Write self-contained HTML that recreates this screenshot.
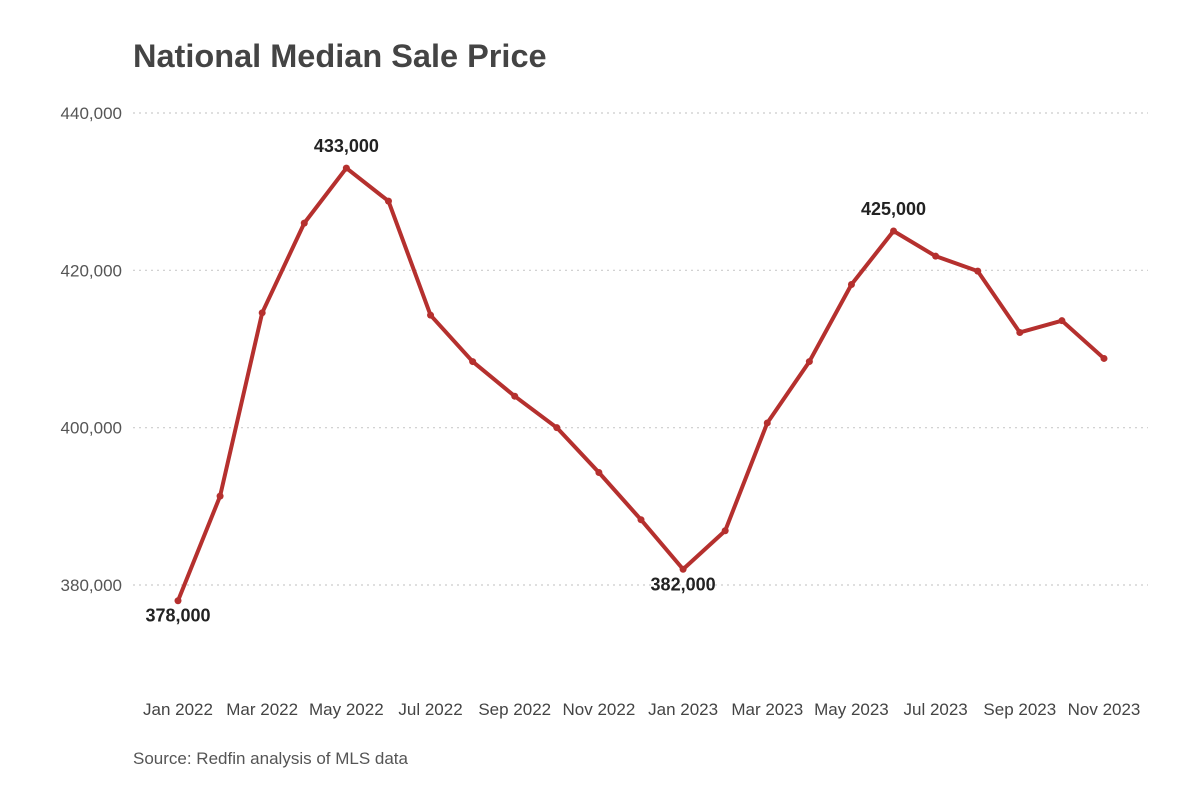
<!DOCTYPE html>
<html><head><meta charset="utf-8"><style>
body{margin:0;background:#fff;}
svg{display:block;font-family:"Liberation Sans",Arial,sans-serif;}
</style></head><body>
<svg width="1200" height="799" viewBox="0 0 1200 799">
<text x="133" y="67" font-size="32.5" font-weight="bold" fill="#444">National Median Sale Price</text>
<g id="grid"></g><g id="xaxis"></g><g id="series"></g><g id="labels"></g>
<text x="133" y="764" font-size="17" fill="#555">Source: Redfin analysis of MLS data</text>
</svg>
<script>
const categories=["Jan 2022","Feb 2022","Mar 2022","Apr 2022","May 2022","Jun 2022","Jul 2022","Aug 2022","Sep 2022","Oct 2022","Nov 2022","Dec 2022","Jan 2023","Feb 2023","Mar 2023","Apr 2023","May 2023","Jun 2023","Jul 2023","Aug 2023","Sep 2023","Oct 2023","Nov 2023"];
const values=[378000,391300,414600,426000,433000,428800,414300,408400,404000,400000,394300,388300,382000,386900,400600,408400,418200,425000,421800,419900,412100,413600,408800];
const yTicks=[380000,400000,420000,440000];
const yTickLabels=["380,000","400,000","420,000","440,000"];
const annotated=[0,4,12,17];
const annotLabels=["378,000","433,000","382,000","425,000"];
const NS="http://www.w3.org/2000/svg";
function x(i){return 178+i*(1104-178)/(categories.length-1);}
function y(v){return 113+(440000-v)*(585-113)/60000;}
function mk(tag,attrs,parent){const e=document.createElementNS(NS,tag);for(const k in attrs)e.setAttribute(k,attrs[k]);document.getElementById(parent).appendChild(e);return e;}
yTicks.forEach((t,i)=>{
 const l=mk('line',{x1:133,x2:1148,y1:y(t),y2:y(t),stroke:'#ccc','stroke-width':1.2,'stroke-dasharray':'2,4'},'grid');
 
 
 const tx=mk('text',{x:122,y:y(t)+6,'text-anchor':'end','font-size':17,fill:'#555'},'grid');
 tx.textContent=yTickLabels[i];
 
 
});
categories.forEach((c,i)=>{
 if(i%2)return;
 const tx=mk('text',{x:x(i),y:715,'text-anchor':'middle','font-size':17,fill:'#444'},'xaxis');
 tx.textContent=c;
 
 
});
const pl=mk('polyline',{points:values.map((v,i)=>x(i)+','+y(v)).join(' '),fill:'none',stroke:'#b5302e','stroke-width':4,'stroke-linejoin':'round'},'series');


values.forEach((v,i)=>{
 const c=mk('circle',{cx:x(i),cy:y(v),r:3.5,fill:'#b5302e'},'series');
 
 
});
annotated.forEach((idx,k)=>{
 const above=(idx===4||idx===17);
 const tx=mk('text',{x:x(idx),y:above?y(values[idx])-16:y(values[idx])+21,'text-anchor':'middle','font-size':18,'font-weight':'bold',fill:'#222'},'labels');
 tx.textContent=annotLabels[k];
 
 
});
</script>
</body></html>
